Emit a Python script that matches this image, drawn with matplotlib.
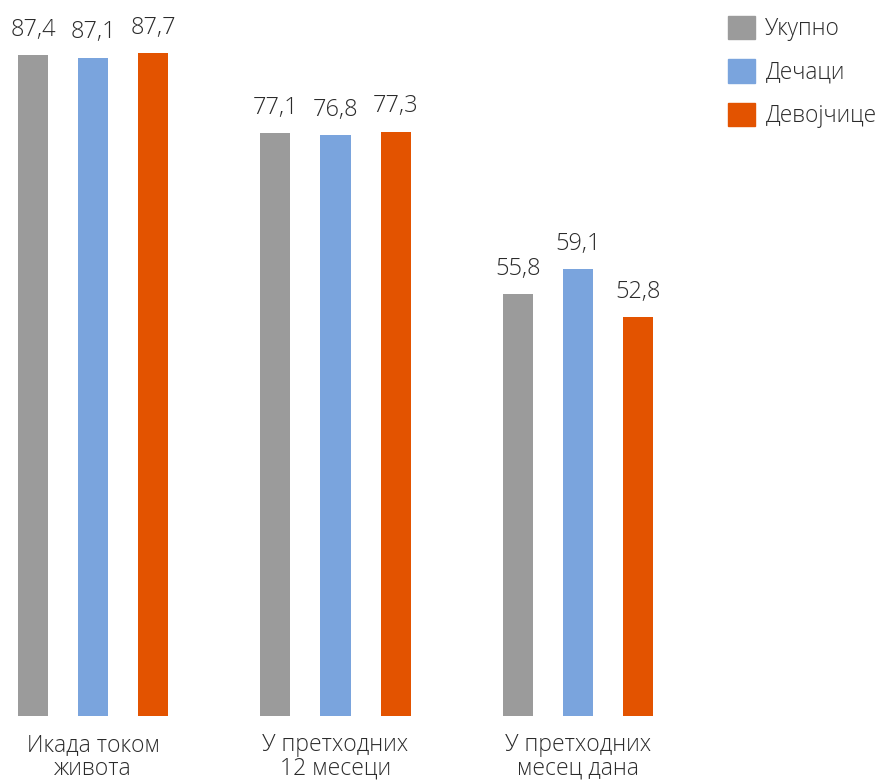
import matplotlib
matplotlib.use("Agg")
import matplotlib.pyplot as plt
import numpy as np
from matplotlib.patches import Patch

plt.rcParams['font.family'] = ['Open Sans', 'DejaVu Sans']
plt.rcParams['font.weight'] = 'light'

categories = ["Икада током\nживота", "У претходних\n12 месеци", "У претходних\nмесец дана"]
series_names = ["Укупно", "Дечаци", "Девојчице"]
ukupno = [87.4, 77.1, 55.8]
decaci = [87.1, 76.8, 59.1]
devojcice = [87.7, 77.3, 52.8]
colors = ["#9b9b9b", "#7aa4dd", "#e35300"]

W, H = 883, 780
fig = plt.figure(figsize=(W / 100, H / 100), dpi=100)
left, right, bottom_px = 18, 653, 716
ax = fig.add_axes([left / W, (H - bottom_px) / H, (right - left) / W, bottom_px / H])

x = np.arange(len(categories))
width = 0.124
offsets = [-0.248, 0.0, 0.248]
for vals, off, c in zip([ukupno, decaci, devojcice], offsets, colors):
    bars = ax.bar(x + off, vals, width=width, color=c)
    for b, v in zip(bars, vals):
        ax.annotate(f"{v:.1f}".replace(".", ","), (b.get_x() + b.get_width() / 2, v),
                    xytext=(0, 9.5), textcoords="offset points", ha="center", va="bottom",
                    fontsize=17, color="#2b2b2b", fontweight='light')

ax.set_xlim(-0.31, 2.31)
ax.set_ylim(0, bottom_px / 7.56)
ax.set_xticks(x)
ax.set_xticklabels(categories, fontsize=16.5, color="#2b2b2b", linespacing=1.0, fontweight='light')
ax.tick_params(axis='x', length=0, pad=12)
ax.set_yticks([])
for s in ax.spines.values():
    s.set_visible(False)

handles = [Patch(color=c) for c in colors]
fig.legend(handles, series_names, loc="upper left", bbox_to_anchor=(719 / W, 1 - 7 / H),
           frameon=False, handlelength=1.2, handleheight=1.2,
           handletextpad=0.45, labelspacing=0.8, labelcolor="#2b2b2b", borderaxespad=0,
           prop={'size': 16.3, 'weight': 'light'})

fig.savefig("out.png", dpi=100)
